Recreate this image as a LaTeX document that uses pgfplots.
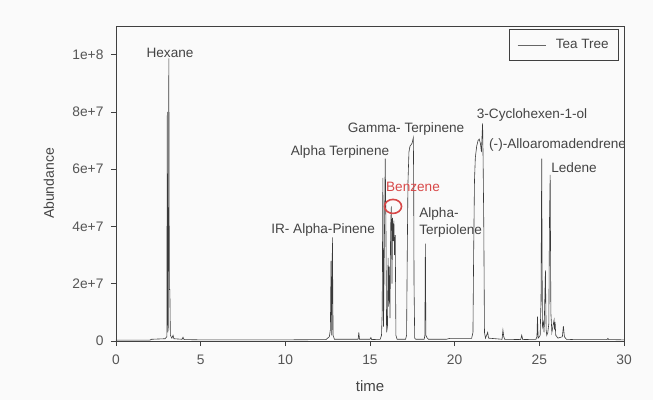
\documentclass[border=0pt]{standalone}
\usepackage{pgfplots}
\pgfplotsset{compat=1.18}
\usepackage{fontspec}
\setmainfont{Liberation Sans}
\definecolor{bgc}{HTML}{FAFAFA}
\definecolor{txt}{HTML}{444444}
\definecolor{tick}{HTML}{555555}
\definecolor{trace}{HTML}{3A3A3A}
\definecolor{redlab}{HTML}{D84848}
\begin{document}
\begin{tikzpicture}
\fill[bgc] (-116pt,-59pt) rectangle (537pt,341pt);
\begin{axis}[
  anchor=south west, at={(0pt,0pt)},
  scale only axis, width=508pt, height=315pt,
  xmin=0, xmax=30, ymin=0, ymax=110,
  axis line style={black!75, line width=0.6pt},
  xtick={0,5,10,15,20,25,30},
  xticklabels={0,5,10,15,20,25,30},
  ytick={0,20,40,60,80,100},
  yticklabels={0,2e+7,4e+7,6e+7,8e+7,1e+8},
  tick align=outside, xtick pos=lower, ytick pos=left,
  major tick length=5pt,
  tick style={black!75, line width=0.6pt},
  ticklabel style={font=\fontsize{13.8}{15}\selectfont, text=tick},
  xticklabel style={yshift=-5pt},
  yticklabel style={xshift=-4pt},
  /pgf/number format/assume math mode=true,
  xlabel={time}, ylabel={Abundance},
  xlabel style={at={(axis description cs:0.5,-0.1444)}, anchor=center, font=\fontsize{15}{17}\selectfont, text=txt},
  ylabel style={at={(axis description cs:-0.1319,0.5)}, anchor=center, font=\fontsize{14}{16}\selectfont, text=txt},
  legend style={at={(axis description cs:0.990,0.990)}, anchor=north east, draw=black!75, line width=0.6pt, fill=none,
    font=\fontsize{13.5}{15}\selectfont, text=txt, inner xsep=8pt, inner ysep=8pt},
  legend image code/.code={\draw[black!60, line width=0.6pt] (0pt,0pt) -- (28pt,0pt); \path (36pt,0pt);},
  legend cell align=left,
  clip=true,
]
\addplot[trace, line width=0.6pt] coordinates {
(0,0.3) (2.0,0.3) (2.1,0.6) (2.9,0.8) (3.0,1.5)
(3.03,80) (3.06,3) (3.09,5) (3.12,98.7) (3.15,18) (3.18,18) (3.21,2) (3.3,1) (3.37,2) (3.42,0.8)
(3.9,0.6) (3.96,1.3) (4.02,0.5) (5,0.4) (8,0.4) (10,0.4) (12.4,0.5) (12.6,1.5)
(12.66,4) (12.7,28) (12.74,2) (12.78,36.2) (12.82,2) (12.9,0.6)
(14.3,0.6) (14.34,3) (14.38,0.6) (15.0,0.6) (15.05,1.2) (15.1,0.5)
(15.6,0.6) (15.68,2) (15.72,10) (15.76,57) (15.8,5) (15.84,30) (15.9,63.7) (15.94,40) (15.98,3)
(16.03,5) (16.07,29) (16.1,12) (16.14,26) (16.18,8) (16.22,40) (16.26,47) (16.3,20) (16.33,43)
(16.37,35) (16.41,42) (16.45,30) (16.49,37) (16.53,2) (16.6,0.6)
(17.1,0.6) (17.16,2) (17.2,30) (17.24,55) (17.3,66) (17.36,68) (17.42,68.5) (17.48,69) (17.52,70)
(17.56,71) (17.58,55) (17.6,20) (17.64,1) (17.7,0.6)
(18.2,0.6) (18.24,2) (18.27,34) (18.3,2) (18.36,1.2) (18.45,0.6)
(19.5,0.6) (19.7,0.9) (21.0,0.9)
(21.08,3) (21.12,30) (21.17,56) (21.22,64) (21.3,68) (21.38,70) (21.45,70.5) (21.52,69) (21.58,66)
(21.62,72) (21.65,76) (21.68,63) (21.72,40) (21.76,3) (21.82,1) (21.95,3) (22.0,1)
(22.8,0.6) (22.85,3.8) (22.9,1.5) (22.95,0.6)
(23.9,0.5) (23.96,2) (24.02,0.5)
(24.8,0.6) (24.86,1.5) (24.89,8.5) (24.93,1) (25.0,1.5) (25.05,2) (25.1,15) (25.14,63.7) (25.18,5)
(25.24,6.7) (25.28,3) (25.36,24.7) (25.4,4) (25.44,2) (25.5,3) (25.56,6) (25.6,42) (25.64,58)
(25.68,10) (25.74,3) (25.8,5) (25.87,7.3) (25.9,4) (25.93,6.7) (25.97,2) (26.1,1)
(26.36,1.5) (26.42,5.2) (26.48,1.5) (26.6,0.6) (27,0.5) (29,0.5) (29.05,0.9) (29.1,0.5) (30,0.4)
};
\addlegendentry{Tea Tree}
\begin{scope}[every node/.style={font=\fontsize{13.6}{15}\selectfont, text=txt, inner sep=0pt}]
\node at (axis cs:3.19,100.7) {Hexane};
\node at (axis cs:12.23,38.7) {IR- Alpha-Pinene};
\node at (axis cs:13.23,65.9) {Alpha Terpinene};
\node at (axis cs:17.13,73.9) {Gamma- Terpinene};
\node[text=redlab] at (axis cs:17.54,53.7) {Benzene};
\node[anchor=west] at (axis cs:17.9,44.3) {Alpha-};
\node[anchor=west] at (axis cs:17.9,38.3) {Terpiolene};
\node at (axis cs:24.57,79.1) {3-Cyclohexen-1-ol};
\node at (axis cs:26.08,68.3) {(-)-Alloaromadendrene};
\node at (axis cs:27.05,60.6) {Ledene};
\end{scope}
\draw[redlab, line width=1.6pt] (axis cs:16.36,47) ellipse [x radius=8.5pt, y radius=7pt];
\end{axis}
\end{tikzpicture}
\end{document}
